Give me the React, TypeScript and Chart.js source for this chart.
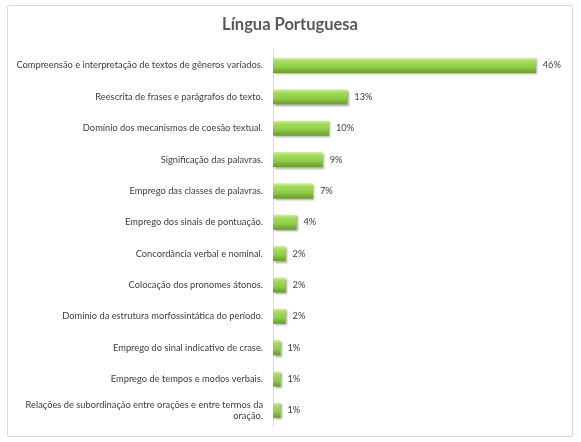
import { Chart, registerables } from 'chart.js'
import { useEffect, useRef } from 'react'

Chart.register(...registerables)

const TITLE = 'Língua Portuguesa'

const topics: (string | string[])[] = [
  'Compreensão e interpretação de textos de gêneros variados.',
  'Reescrita de frases e parágrafos do texto.',
  'Domínio dos mecanismos de coesão textual.',
  'Significação das palavras.',
  'Emprego das classes de palavras.',
  'Emprego dos sinais de pontuação.',
  'Concordância verbal e nominal.',
  'Colocação dos pronomes átonos.',
  'Domínio da estrutura morfossintática do período.',
  'Emprego do sinal indicativo de crase.',
  'Emprego de tempos e modos verbais.',
  ['Relações de subordinação entre orações e entre termos da', 'oração.'],
]

// percent share per topic
const shares = [46, 13, 9.8, 8.7, 7, 4.1, 2.2, 2.2, 2.2, 1.3, 1.3, 1.3]

const FONT = 'Lato, "Open Sans", sans-serif'

const shadowPlugin = {
  id: 'barShadow',
  beforeDatasetsDraw(chart: Chart) {
    const c = chart.ctx
    c.save()
    c.shadowColor = 'rgba(0,0,0,0.35)'
    c.shadowOffsetX = 1.5
    c.shadowOffsetY = 1.5
    c.shadowBlur = 2
  },
  afterDatasetsDraw(chart: Chart) {
    chart.ctx.restore()
  },
}

const labelPlugin = {
  id: 'valueLabels',
  afterDatasetsDraw(chart: Chart) {
    const c = chart.ctx
    const meta = chart.getDatasetMeta(0)
    c.save()
    c.font = `9.3px ${FONT}`
    c.fillStyle = '#404040'
    c.textBaseline = 'middle'
    meta.data.forEach((bar: any, i) => {
      c.fillText(Math.round(shares[i]) + '%', bar.x + 7, bar.y)
    })
    c.restore()
  },
}

export default function App() {
  const canvasRef = useRef<HTMLCanvasElement>(null)
  const chartRef = useRef<Chart | null>(null)

  useEffect(() => {
    if (!canvasRef.current) return
    if (chartRef.current) { chartRef.current.destroy() }

    chartRef.current = new Chart(canvasRef.current, {
      type: 'bar',
      data: {
        labels: topics,
        datasets: [{
          data: shares,
          backgroundColor: (ctx: any) => {
            const chart = ctx.chart
            const ys = chart.scales.y
            if (!ys || ctx.dataIndex === undefined) return '#92d050'
            const y = ys.getPixelForValue(ctx.dataIndex)
            if (!isFinite(y)) return '#92d050'
            const g = chart.ctx.createLinearGradient(0, y - 7.5, 0, y + 7.5)
            g.addColorStop(0, '#d4f0a0')
            g.addColorStop(0.2, '#a6dc60')
            g.addColorStop(0.6, '#8fcd48')
            g.addColorStop(1, '#6a9a2e')
            return g
          },
          borderWidth: 0,
          barPercentage: 0.6,
          categoryPercentage: 0.8,
        }],
      },
      plugins: [shadowPlugin, labelPlugin],
      options: {
        indexAxis: 'y',
        responsive: false,
        animation: false,
        layout: { padding: { left: 10, right: 11, top: 10, bottom: 16 } },
        plugins: {
          legend: { display: false },
          tooltip: { enabled: false },
          title: {
            display: true,
            text: TITLE,
            color: '#595959',
            font: { family: FONT, size: 16.5, weight: 'bold' },
            padding: { top: 4.5, bottom: 15.5 },
          },
        },
        scales: {
          x: { display: false, min: 0, max: 52 },
          y: {
            afterFit: (s: any) => { s.width = 263 },
            grid: { display: false, drawTicks: false },
            border: { display: true, color: '#d9d9d9' },
            ticks: { color: '#404040', font: { family: FONT, size: 9.3 }, padding: 10 },
          },
        },
      },
    })
    return () => { if (chartRef.current) chartRef.current.destroy() }
  }, [])

  return (
    <div style={{ position: 'fixed', left: 0, top: 0, width: 581, height: 442, background: '#fff' }}>
      <div style={{ position: 'absolute', left: 7, top: 5, width: 566, height: 432, border: '1px solid #d9d9d9', borderRadius: 2, boxSizing: 'border-box' }} />
      <canvas ref={canvasRef} width={581} height={442} style={{ position: 'absolute', left: 0, top: 0 }} />
    </div>
  )
}
